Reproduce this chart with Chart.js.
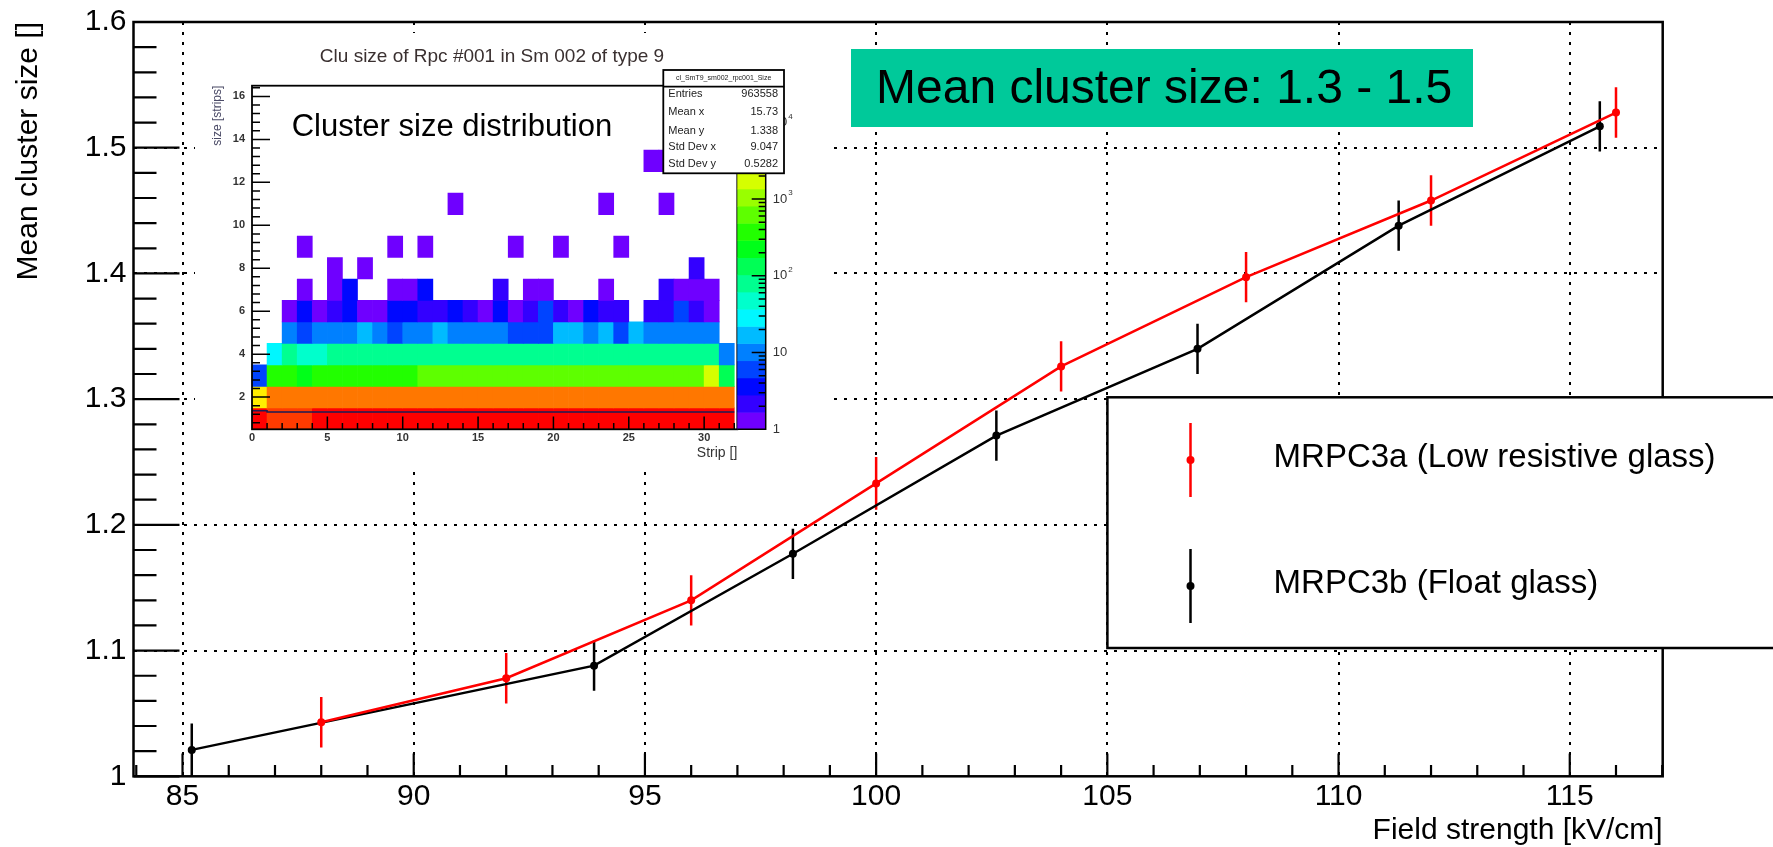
<!DOCTYPE html>
<html>
<head>
<meta charset="utf-8">
<script src="https://cdn.jsdelivr.net/npm/chart.js@4.4.1/dist/chart.umd.min.js"></script>
<style>
  html, body { margin: 0; padding: 0; background: #fff; }
  #wrap { position: relative; width: 1773px; height: 847px; overflow: hidden; }
  #main { position: absolute; left: 0; top: 0; }
  #inset { position: absolute; left: 195px; top: 33px; }
</style>
</head>
<body>
<div id="wrap">
  <canvas id="main" width="1773" height="847"></canvas>
  <canvas id="inset" width="635" height="437"></canvas>
</div>
<script>
// main graph: mean cluster size vs field strength
var seriesNames = ["MRPC3a (Low resistive glass)", "MRPC3b (Float glass)"];
var redX = [88, 92, 96, 100, 104, 108, 112, 116];
var redY = [1.043, 1.078, 1.140, 1.233, 1.326, 1.397, 1.458, 1.528];
var redErr = [0.020, 0.020, 0.020, 0.021, 0.020, 0.020, 0.020, 0.020];
var blackX = [85.2, 93.9, 98.2, 102.6, 106.95, 111.3, 115.65];
var blackY = [1.021, 1.088, 1.177, 1.271, 1.340, 1.438, 1.517];
var blackErr = [0.021, 0.020, 0.020, 0.020, 0.020, 0.020, 0.020];
var xTicks = [85, 90, 95, 100, 105, 110, 115];
var yTicks = [1, 1.1, 1.2, 1.3, 1.4, 1.5, 1.6];
var boxText = "Mean cluster size: 1.3 - 1.5";

// inset: cluster size (rows) per strip (columns 0..31), counts
var sizeRows = [1, 2, 3, 4, 5, 6, 7, 8, 9, 10, 11, 12, 13];
var counts = [
  [22800, 14500, 13800, 14200, 23600, 24100, 23800, 24500, 24000, 23700, 24300, 23900, 24200, 23500, 24400, 23800, 24100, 23600, 24000, 23900, 24300, 23700, 24200, 23800, 23500, 24100, 23600, 23900, 23400, 23200, 22900, 22500],
  [3100, 8600, 9000, 8800, 9100, 8900, 9200, 8700, 9000, 8800, 9100, 8900, 9300, 9000, 8800, 9200, 9100, 8900, 9000, 8700, 9100, 8800, 9000, 8900, 9200, 8800, 9000, 8700, 8900, 8600, 8500, 8200],
  [6, 400, 380, 240, 390, 410, 370, 400, 380, 420, 410, 560, 620, 600, 650, 580, 610, 640, 600, 590, 630, 610, 650, 600, 620, 590, 640, 610, 600, 570, 1700, 140],
  [0, 30, 85, 50, 52, 88, 90, 84, 92, 86, 89, 91, 87, 90, 93, 88, 86, 91, 89, 92, 87, 90, 88, 85, 91, 89, 86, 90, 88, 87, 82, 11],
  [0, 0, 10, 6, 11, 10, 9, 16, 10, 6, 11, 10, 15, 10, 11, 10, 9, 6, 5, 6, 16, 15, 10, 17, 6, 16, 11, 10, 9, 10, 9, 0],
  [0, 0, 1, 3, 1, 2, 4, 1, 1, 3, 4, 2, 2, 3, 2, 1, 4, 1, 2, 6, 2, 1, 3, 2, 2, 0, 2, 2, 5, 2, 1, 0],
  [0, 0, 0, 1, 0, 1, 3, 0, 0, 1, 1, 3, 0, 0, 0, 0, 2, 0, 1, 1, 0, 0, 0, 1, 0, 0, 0, 2, 1, 1, 1, 0],
  [0, 0, 0, 0, 0, 1, 0, 1, 0, 0, 0, 0, 0, 0, 0, 0, 0, 0, 0, 0, 0, 0, 0, 0, 0, 0, 0, 0, 0, 2, 0, 0],
  [0, 0, 0, 1, 0, 0, 0, 0, 0, 1, 0, 1, 0, 0, 0, 0, 0, 1, 0, 0, 1, 0, 0, 0, 1, 0, 0, 0, 0, 0, 0, 0],
  [0, 0, 0, 0, 0, 0, 0, 0, 0, 0, 0, 0, 0, 0, 0, 0, 0, 0, 0, 0, 0, 0, 0, 0, 0, 0, 0, 0, 0, 0, 0, 0],
  [0, 0, 0, 0, 0, 0, 0, 0, 0, 0, 0, 0, 0, 1, 0, 0, 0, 0, 0, 0, 0, 0, 0, 1, 0, 0, 0, 1, 0, 0, 0, 0],
  [0, 0, 0, 0, 0, 0, 0, 0, 0, 0, 0, 0, 0, 0, 0, 0, 0, 0, 0, 0, 0, 0, 0, 0, 0, 0, 0, 0, 0, 0, 0, 0],
  [0, 0, 0, 0, 0, 0, 0, 0, 0, 0, 0, 0, 0, 0, 0, 0, 0, 0, 0, 0, 0, 0, 0, 0, 0, 0, 1, 1, 0, 0, 0, 0]
];
var profileX = [0, 1, 31, 32];
var profileY = [1.05, 1.36, 1.30, 1.30];
var stripTicks = [0, 5, 10, 15, 20, 25, 30];
var sizeTicks = [2, 4, 6, 8, 10, 12, 14, 16];
var statLabels = ["Entries", "Mean x", "Mean y", "Std Dev x", "Std Dev y"];
var statValues = ["963558", "15.73", "1.338", "9.047", "0.5282"];
var zMax = 30000;
var nLevels = 20;

var FONT = "'Liberation Sans', Arial, Helvetica, sans-serif";
Chart.defaults.font.family = FONT;

// ROOT style palette: violet -> red, 20 contour levels on log z
function levelOf(c) {
  var l = Math.floor(Math.log10(c) / Math.log10(zMax) * nLevels);
  return Math.max(0, Math.min(nLevels - 1, l));
}
function levelColor(l) {
  return 'hsl(' + (280 - (l + 1) * 14) + ',100%,50%)';
}

// frame + ticks pointing inside, drawn like ROOT
function drawFrame(chart, spec) {
  var ctx = chart.ctx, a = chart.chartArea;
  var xs = chart.scales.x, ys = chart.scales.y;
  ctx.save();
  ctx.strokeStyle = '#000';
  ctx.lineWidth = spec.tickWidth;
  ctx.beginPath();
  spec.xTicks.forEach(function(t) {
    var p = xs.getPixelForValue(t[0]);
    ctx.moveTo(p, a.bottom);
    ctx.lineTo(p, a.bottom - t[1]);
  });
  spec.yTicks.forEach(function(t) {
    var p = ys.getPixelForValue(t[0]);
    ctx.moveTo(a.left, p);
    ctx.lineTo(a.left + t[1], p);
  });
  ctx.stroke();
  ctx.lineWidth = spec.frameWidth;
  ctx.strokeRect(a.left, a.top, a.right - a.left, a.bottom - a.top);
  ctx.restore();
}

// ---------------- main chart ----------------
var mainXT = [];
for (var v = 84; v <= 117; v++) mainXT.push([v, v % 5 === 0 ? 22.7 : 11.3]);
var mainYT = [];
for (var k = 0; k <= 30; k++) mainYT.push([1 + k * 0.02, k % 5 === 0 ? 46 : 23]);

var mainDecor = {
  id: 'mainDecor',
  beforeDatasetsDraw: function(chart) {
    var ctx = chart.ctx, a = chart.chartArea;
    var xs = chart.scales.x, ys = chart.scales.y;
    ctx.save();
    ctx.beginPath();
    ctx.rect(a.left, a.top, a.right - a.left, a.bottom - a.top);
    ctx.clip();
    chart.data.datasets.forEach(function(ds) {
      ctx.strokeStyle = ds.borderColor;
      ctx.lineWidth = 2.5;
      ds.data.forEach(function(p, j) {
        var px = xs.getPixelForValue(p.x);
        ctx.beginPath();
        ctx.moveTo(px, ys.getPixelForValue(p.y - ds.errors[j]));
        ctx.lineTo(px, ys.getPixelForValue(p.y + ds.errors[j]));
        ctx.stroke();
      });
    });
    ctx.restore();
  },
  afterDatasetsDraw: function(chart) {
    drawFrame(chart, { xTicks: mainXT, yTicks: mainYT, tickWidth: 2.2, frameWidth: 2.5 });
  },
  afterDraw: function(chart) {
    var ctx = chart.ctx;
    ctx.save();
    // green label
    ctx.fillStyle = '#00c99a';
    ctx.fillRect(851, 49, 622, 78);
    ctx.fillStyle = '#000';
    ctx.font = '48px ' + FONT;
    ctx.textBaseline = 'middle';
    ctx.textAlign = 'left';
    ctx.fillText(boxText, 876, 90);
    // legend
    ctx.fillStyle = '#fff';
    ctx.fillRect(1107.4, 397.3, 700, 250.7);
    ctx.strokeStyle = '#000';
    ctx.lineWidth = 2.5;
    ctx.strokeRect(1107.4, 397.3, 700, 250.7);
    var ly = [460, 586];
    chart.data.datasets.forEach(function(ds, i) {
      ctx.strokeStyle = ds.borderColor;
      ctx.fillStyle = ds.borderColor;
      ctx.lineWidth = 2.5;
      ctx.beginPath();
      ctx.moveTo(1190.5, ly[i] - 37);
      ctx.lineTo(1190.5, ly[i] + 37);
      ctx.stroke();
      ctx.beginPath();
      ctx.arc(1190.5, ly[i], 4, 0, Math.PI * 2);
      ctx.fill();
      ctx.fillStyle = '#000';
      ctx.font = '33px ' + FONT;
      ctx.fillText(ds.label, 1273.6, ly[i] - 2);
    });
    ctx.restore();
  }
};

function pts(xa, ya) {
  return xa.map(function(x, i) { return { x: x, y: ya[i] }; });
}

new Chart(document.getElementById('main'), {
  type: 'line',
  data: {
    datasets: [
      { label: seriesNames[0], data: pts(redX, redY), errors: redErr,
        borderColor: '#ff0000', backgroundColor: '#ff0000', borderWidth: 2.5,
        pointRadius: 4, pointBorderWidth: 0, tension: 0 },
      { label: seriesNames[1], data: pts(blackX, blackY), errors: blackErr,
        borderColor: '#000000', backgroundColor: '#000000', borderWidth: 2.5,
        pointRadius: 4, pointBorderWidth: 0, tension: 0 }
    ]
  },
  options: {
    responsive: false,
    animation: false,
    devicePixelRatio: 1,
    layout: { padding: { left: 0, right: 110.3, top: 17.7, bottom: 0 } },
    plugins: { legend: { display: false }, tooltip: { enabled: false } },
    scales: {
      x: {
        type: 'linear', min: 83.94, max: 117.01,
        afterBuildTicks: function(s) { s.ticks = xTicks.map(function(v) { return { value: v }; }); },
        afterFit: function(s) { s.height = 70.7; },
        ticks: { color: '#000', font: { size: 30, lineHeight: 1 }, padding: 5, maxRotation: 0, autoSkip: false },
        grid: { color: '#000', lineWidth: 2, drawTicks: false },
        border: { display: false, dash: [3, 7] },
        title: { display: true, text: 'Field strength [kV/cm]', align: 'end', color: '#000',
                 font: { size: 30, lineHeight: 1 }, padding: { top: 1, bottom: 1 } }
      },
      y: {
        type: 'linear', min: 1, max: 1.6,
        afterBuildTicks: function(s) { s.ticks = yTicks.map(function(v) { return { value: v }; }); },
        afterFit: function(s) { s.width = 133.5; },
        ticks: { color: '#000', font: { size: 30, lineHeight: 1 }, padding: 7,
                 callback: function(v) { return String(Math.round(v * 10) / 10); } },
        grid: {
          color: function(c) {
            var t = c.tick ? c.tick.value : 0;
            return (Math.abs(t - 1) < 1e-6 || Math.abs(t - 1.6) < 1e-6) ? 'rgba(0,0,0,0)' : '#000';
          },
          lineWidth: 2, drawTicks: false
        },
        border: { display: false, dash: [3, 7] },
        title: { display: true, text: 'Mean cluster size []', align: 'end', color: '#000',
                 font: { size: 30, lineHeight: 1 }, padding: { top: 14, bottom: 0 } }
      }
    }
  },
  plugins: [mainDecor]
});

// ---------------- inset histogram ----------------
var cells = [];
counts.forEach(function(row, i) {
  row.forEach(function(c, col) {
    if (c > 0) cells.push({ x: col + 0.5, y: [sizeRows[i] - 0.5, sizeRows[i] + 0.5], c: c });
  });
});

var insXT = [];
for (var s = 1; s <= 32; s++) insXT.push([s, s % 5 === 0 ? 12.7 : 6.3]);
var insYT = [];
for (var q = 2; q <= 41; q++) insYT.push([q * 0.4, q % 5 === 0 ? 18 : 8]);

function drawPow(ctx, exp, x, y) {
  ctx.font = '13px ' + FONT;
  if (exp === 0) { ctx.fillText('1', x, y); return; }
  ctx.fillText('10', x, y);
  if (exp > 1) {
    var w = ctx.measureText('10').width;
    ctx.font = '8px ' + FONT;
    ctx.fillText(String(exp), x + w + 1, y - 6);
  }
}

var insetDecor = {
  id: 'insetDecor',
  beforeDraw: function(chart) {
    var ctx = chart.ctx;
    ctx.save();
    ctx.fillStyle = '#fff';
    ctx.fillRect(0, 0, chart.width, chart.height);
    ctx.restore();
  },
  afterDatasetsDraw: function(chart) {
    var ctx = chart.ctx, a = chart.chartArea, zs = chart.scales.z;
    drawFrame(chart, { xTicks: insXT, yTicks: insYT, tickWidth: 1.5, frameWidth: 1.8 });
    ctx.save();
    // palette
    var px0 = a.right, px1 = a.right + 28.4;
    var step = Math.log10(zMax) / nLevels;
    for (var l = 0; l < nLevels; l++) {
      var y0 = zs.getPixelForValue(Math.pow(10, l * step));
      var y1 = zs.getPixelForValue(Math.pow(10, (l + 1) * step));
      ctx.fillStyle = levelColor(l);
      ctx.fillRect(px0, y1, px1 - px0, y0 - y1 + 0.5);
    }
    ctx.strokeStyle = '#000';
    ctx.lineWidth = 1.5;
    ctx.beginPath();
    ctx.moveTo(px1, a.top);
    ctx.lineTo(px1, a.bottom);
    ctx.lineTo(px0, a.bottom);
    for (var d = 0; d <= 4; d++) {
      for (var m = 1; m <= 9; m++) {
        var val = m * Math.pow(10, d);
        if (val > zMax) break;
        var py = zs.getPixelForValue(val);
        ctx.moveTo(px1, py);
        ctx.lineTo(px1 - (m === 1 ? 14 : 7), py);
      }
    }
    ctx.stroke();
    ctx.fillStyle = '#333';
    ctx.textBaseline = 'middle';
    ctx.textAlign = 'left';
    for (var e = 0; e <= 4; e++) drawPow(ctx, e, px1 + 7, zs.getPixelForValue(Math.pow(10, e)));

    // titles
    ctx.fillStyle = '#3a3030';
    ctx.font = '19px ' + FONT;
    ctx.textAlign = 'center';
    ctx.fillText('Clu size of Rpc #001 in Sm 002 of type 9', 297, 24);
    ctx.fillStyle = '#000';
    ctx.font = '31px ' + FONT;
    ctx.textAlign = 'left';
    ctx.fillText('Cluster size distribution', 96.7, 94);

    // stats box
    var bx = 468.3, by = 37, bw = 120.7, bh = 103.3;
    ctx.fillStyle = '#fff';
    ctx.fillRect(bx, by, bw, bh);
    ctx.strokeStyle = '#000';
    ctx.lineWidth = 1.8;
    ctx.strokeRect(bx, by, bw, bh);
    ctx.beginPath();
    ctx.moveTo(bx, by + 16.7);
    ctx.lineTo(bx + bw, by + 16.7);
    ctx.stroke();
    ctx.fillStyle = '#222';
    ctx.font = '7px ' + FONT;
    ctx.textAlign = 'center';
    ctx.fillText('cl_SmT9_sm002_rpc001_Size', bx + bw / 2, by + 8.5);
    ctx.font = '11px ' + FONT;
    var rowsY = [61.3, 79.3, 97.7, 114.3, 131.3];
    statLabels.forEach(function(lab, i) {
      ctx.textAlign = 'left';
      ctx.fillText(lab, 473.3, rowsY[i]);
      ctx.textAlign = 'right';
      ctx.fillText(statValues[i], 583, rowsY[i]);
    });
    ctx.restore();
  }
};

new Chart(document.getElementById('inset'), {
  type: 'bar',
  data: {
    datasets: [
      { type: 'line', data: pts(profileX, profileY), borderColor: '#1c1c55', borderWidth: 1.5,
        pointRadius: 0, stepped: 'after', order: 0 },
      { type: 'bar', data: cells, order: 1,
        backgroundColor: function(c) { return c.raw ? levelColor(levelOf(c.raw.c)) : '#fff'; },
        borderWidth: 0, barPercentage: 1, categoryPercentage: 1 }
    ]
  },
  options: {
    responsive: false,
    animation: false,
    devicePixelRatio: 1,
    layout: { padding: { left: 0, right: 92.7, top: 52.7, bottom: 0 } },
    plugins: { legend: { display: false }, tooltip: { enabled: false } },
    scales: {
      x: {
        type: 'linear', min: 0, max: 32.2, offset: false,
        afterBuildTicks: function(s) { s.ticks = stripTicks.map(function(v) { return { value: v }; }); },
        afterFit: function(s) { s.height = 40.7; },
        ticks: { color: '#333', font: { size: 11, weight: 'bold', lineHeight: 1 }, padding: 3, maxRotation: 0, autoSkip: false },
        grid: { display: false, offset: false, drawTicks: false },
        border: { display: false },
        title: { display: true, text: 'Strip []', align: 'end', color: '#333',
                 font: { size: 14, lineHeight: 1 }, padding: { top: 10, bottom: 10 } }
      },
      y: {
        type: 'linear', min: 0.5, max: 16.5, beginAtZero: false,
        afterBuildTicks: function(s) { s.ticks = sizeTicks.map(function(v) { return { value: v }; }); },
        afterFit: function(s) { s.width = 57; },
        ticks: { color: '#333', font: { size: 11, weight: 'bold', lineHeight: 1 }, padding: 7 },
        grid: { display: false, drawTicks: false },
        border: { display: false },
        title: { display: true, text: 'size [strips]', align: 'end', color: '#4a4a66',
                 font: { size: 12, lineHeight: 1 }, padding: { top: 17, bottom: 0 } }
      },
      z: { type: 'logarithmic', display: false, position: 'right', min: 1, max: zMax }
    }
  },
  plugins: [insetDecor]
});
</script>
</body>
</html>
